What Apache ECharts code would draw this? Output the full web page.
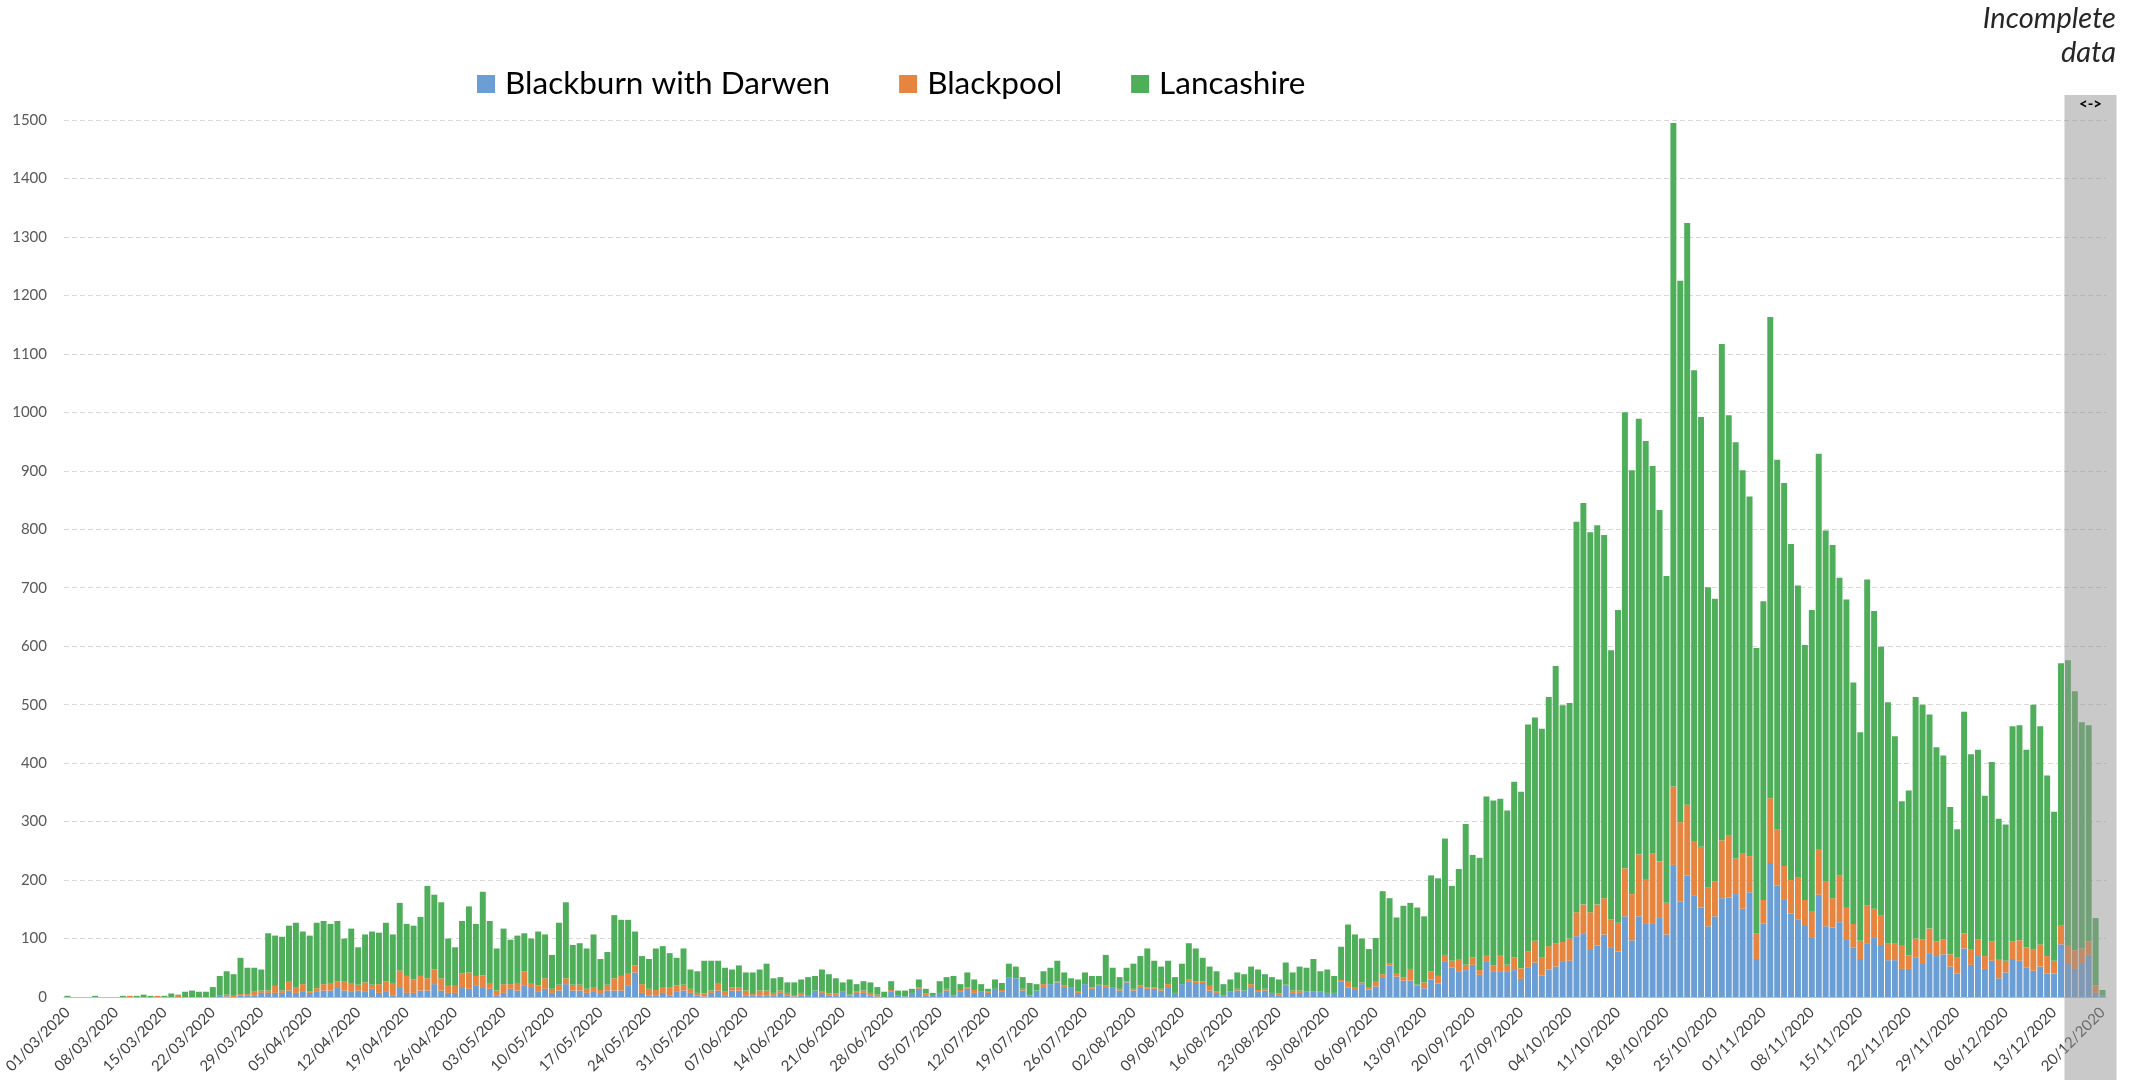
<!DOCTYPE html>
<html>
<head>
<meta charset="utf-8">
<title>Daily cases - Lancashire</title>
<script src="https://cdn.jsdelivr.net/npm/echarts@6/dist/echarts.min.js"></script>
<style>
  html, body { margin: 0; padding: 0; background: #fff; }
  #chart { width: 2130px; height: 1080px; }
</style>
</head>
<body>
<div id="chart"></div>
<script>
// daily counts 01/03/2020 .. 20/12/2020, one row per week
var blackburn = [
  0, 0, 0, 0, 0, 0, 0,
  0, 0, 0, 0, 0, 0, 0,
  0, 0, 0, 0, 0, 0, 0,
  0, 2, 1, 0, 2, 3, 3,
  7, 7, 7, 7, 11, 7, 10,
  7, 10, 11, 11, 17, 11, 10,
  11, 10, 14, 7, 10, 3, 17,
  7, 7, 11, 11, 22, 11, 7,
  7, 17, 14, 19, 17, 14, 3,
  7, 14, 11, 19, 17, 10, 14,
  7, 11, 22, 11, 11, 7, 10,
  5, 11, 11, 11, 19, 42, 7,
  3, 2, 7, 3, 10, 11, 7,
  2, 1, 7, 11, 3, 11, 11,
  2, 2, 2, 2, 3, 7, 2,
  1, 2, 2, 11, 7, 3, 3,
  9, 2, 7, 7, 2, 1, 0,
  10, 2, 1, 7, 14, 3, 2,
  7, 11, 3, 10, 14, 7, 10,
  7, 14, 10, 34, 32, 11, 3,
  11, 17, 22, 25, 17, 17, 7,
  22, 14, 19, 17, 17, 11, 25,
  11, 17, 14, 14, 11, 17, 7,
  22, 27, 24, 24, 11, 7, 3,
  9, 11, 11, 17, 10, 11, 7,
  3, 19, 7, 7, 9, 9, 9,
  7, 7, 26, 16, 12, 22, 13,
  18, 34, 54, 35, 28, 28, 20,
  15, 30, 23, 60, 50, 43, 46,
  55, 38, 60, 43, 43, 43, 46,
  31, 51, 59, 37, 47, 52, 60,
  62, 104, 108, 82, 88, 107, 84,
  78, 138, 97, 138, 125, 125, 135,
  107, 226, 163, 208, 173, 153, 121,
  138, 169, 170, 176, 151, 179, 65,
  126, 229, 191, 166, 143, 132, 123,
  101, 175, 121, 119, 128, 99, 85,
  65, 92, 101, 89, 63, 63, 48,
  48, 68, 58, 75, 70, 73, 52,
  40, 83, 55, 70, 48, 62, 32,
  42, 65, 62, 50, 45, 52, 40,
  40, 90, 58, 48, 58, 72, 7,
  2
];
var blackpool = [
  0, 0, 0, 0, 0, 0, 0,
  0, 0, 2, 0, 0, 0, 2,
  0, 0, 2, 0, 0, 0, 0,
  0, 0, 3, 2, 3, 2, 6,
  4, 4, 12, 4, 15, 10, 12,
  3, 5, 11, 13, 10, 15, 14,
  10, 15, 7, 15, 17, 21, 28,
  29, 23, 25, 21, 25, 21, 12,
  12, 23, 28, 17, 20, 10, 8,
  15, 8, 13, 25, 7, 10, 18,
  7, 10, 10, 10, 10, 7, 7,
  7, 10, 21, 25, 22, 12, 15,
  11, 10, 10, 14, 10, 10, 7,
  5, 5, 4, 13, 6, 5, 5,
  9, 3, 9, 9, 4, 4, 5,
  1, 5, 0, 0, 2, 3, 3,
  0, 2, 3, 4, 5, 3, 0,
  2, 0, 0, 0, 2, 3, 0,
  0, 3, 0, 2, 2, 5, 0,
  2, 0, 2, 0, 0, 3, 0,
  0, 5, 0, 2, 3, 0, 2,
  0, 2, 2, 3, 0, 3, 2,
  3, 3, 2, 2, 3, 5, 0,
  0, 3, 3, 3, 8, 3, 0,
  0, 3, 0, 5, 2, 3, 0,
  3, 2, 4, 4, 0, 0, 0,
  0, 0, 3, 10, 5, 3, 4,
  8, 5, 4, 6, 5, 20, 1,
  10, 14, 13, 12, 12, 22, 9,
  13, 8, 12, 11, 29, 12, 22,
  18, 27, 37, 30, 40, 40, 34,
  38, 41, 50, 63, 70, 62, 49,
  49, 82, 79, 106, 77, 121, 97,
  54, 134, 136, 121, 94, 104, 67,
  59, 99, 107, 61, 95, 62, 43,
  40, 111, 96, 58, 57, 72, 43,
  45, 77, 76, 50, 80, 55, 40,
  31, 65, 50, 50, 28, 28, 41,
  23, 32, 41, 42, 25, 26, 21,
  27, 26, 27, 29, 22, 33, 33,
  20, 30, 35, 35, 37, 38, 30,
  22, 32, 31, 32, 25, 23, 13,
  0
];
var lancashire = [
  2, 0, 0, 0, 2, 0, 0,
  0, 2, 0, 2, 4, 2, 0,
  2, 6, 2, 9, 11, 9, 9,
  17, 34, 40, 37, 62, 45, 41,
  36, 98, 86, 92, 96, 110, 90,
  95, 112, 108, 101, 103, 74, 93,
  64, 82, 91, 88, 100, 83, 116,
  89, 92, 101, 158, 128, 130, 81,
  66, 90, 113, 89, 143, 106, 72,
  95, 76, 81, 65, 76, 92, 75,
  58, 106, 130, 68, 71, 69, 90,
  53, 56, 108, 96, 91, 58, 48,
  51, 71, 70, 58, 47, 62, 33,
  37, 56, 51, 38, 41, 31, 38,
  31, 37, 36, 46, 25, 23, 18,
  23, 23, 32, 25, 38, 33, 26,
  16, 26, 12, 16, 18, 13, 9,
  15, 9, 10, 7, 14, 8, 5,
  20, 20, 33, 10, 26, 18, 12,
  5, 16, 12, 23, 20, 20, 21,
  11, 22, 28, 35, 22, 15, 21,
  20, 20, 15, 52, 33, 20, 23,
  43, 50, 67, 46, 38, 40, 27,
  35, 62, 56, 40, 33, 34, 19,
  21, 28, 28, 30, 35, 25, 27,
  24, 38, 31, 41, 41, 56, 35,
  40, 29, 57, 98, 90, 75, 65,
  75, 142, 111, 95, 123, 113, 132,
  113, 164, 167, 199, 128, 154, 241,
  175, 192, 271, 282, 267, 264, 300,
  302, 388, 382, 392, 426, 474, 405,
  403, 668, 687, 650, 649, 621, 460,
  535, 780, 725, 745, 749, 662, 601,
  559, 1135, 926, 995, 805, 735, 513,
  484, 849, 718, 712, 655, 615, 489,
  511, 823, 632, 655, 575, 500, 436,
  516, 677, 601, 604, 509, 526, 413,
  357, 557, 509, 460, 413, 355, 246,
  282, 413, 401, 366, 332, 314, 252,
  220, 379, 333, 324, 274, 307, 240,
  233, 368, 368, 338, 418, 373, 309,
  255, 449, 487, 443, 387, 370, 115,
  10
];

var names = ['Blackburn with Darwen', 'Blackpool', 'Lancashire'];
var colors = ['#6a9ed4', '#e5853f', '#4fae5a'];
var incompleteFrom = '15/12/2020';

function pad(n) { return n < 10 ? '0' + n : '' + n; }
var days = [];
var start = Date.UTC(2020, 2, 1);
for (var i = 0; i < blackburn.length; i++) {
    var d = new Date(start + i * 86400000);
    days.push(pad(d.getUTCDate()) + '/' + pad(d.getUTCMonth() + 1) + '/' + d.getUTCFullYear());
}

var font = 'Lato';
var chart = echarts.init(document.getElementById('chart'));

var option = {
    backgroundColor: '#ffffff',
    animation: false,
    textStyle: { fontFamily: font },
    color: colors,
    legend: {
        data: names,
        left: 472,
        top: 63,
        icon: 'rect',
        itemWidth: 18,
        itemHeight: 18,
        itemGap: 69,
        textStyle: { fontSize: 31.5, color: '#000', padding: [0, 0, 0, 5] }
    },
    grid: { left: 64, right: 24, top: 120, bottom: 83 },
    xAxis: {
        type: 'category',
        data: days,
        axisLine: { lineStyle: { color: '#bfbfbf' } },
        axisTick: { show: false },
        axisLabel: { interval: 6, rotate: 45, fontSize: 15, color: '#404040', margin: 13 }
    },
    yAxis: {
        type: 'value',
        min: 0,
        max: 1500,
        interval: 100,
        axisLine: { show: false },
        axisTick: { show: false },
        axisLabel: {
            fontSize: 15, color: '#595959', margin: 17,
            formatter: function (v) { return String(v); }
        },
        splitLine: { lineStyle: { color: '#d9d9d9', type: [5, 3] } }
    },
    series: [
        { name: names[0], type: 'bar', stack: 'cases', data: blackburn, barCategoryGap: '14%' },
        { name: names[1], type: 'bar', stack: 'cases', data: blackpool, barCategoryGap: '14%' },
        { name: names[2], type: 'bar', stack: 'cases', data: lancashire, barCategoryGap: '14%' }
    ]
};

option && chart.setOption(option);

// grey box over the days with incomplete data
var c0 = chart.convertToPixel({ xAxisIndex: 0 }, incompleteFrom);
var c1 = chart.convertToPixel({ xAxisIndex: 0 }, days[days.indexOf(incompleteFrom) + 1]);
var boxLeft = c0 - (c1 - c0) / 2;
var boxWidth = 52;

chart.setOption({
    graphic: [
        {
            type: 'rect', z: 100, silent: true,
            shape: { x: boxLeft, y: 95, width: boxWidth, height: 1080 - 95 },
            style: { fill: 'rgba(150,148,150,0.5)' }
        },
        {
            type: 'text', z: 101, x: boxLeft + boxWidth / 2, y: 104,
            style: { text: '<->', align: 'center', verticalAlign: 'middle', font: 'bold 15px ' + font, fill: '#000' }
        },
        {
            type: 'text', z: 101, x: 2116, y: 4,
            style: { text: 'Incomplete', align: 'right', verticalAlign: 'top', font: 'italic 29px ' + font, fill: '#262626' }
        },
        {
            type: 'text', z: 101, x: 2116, y: 38,
            style: { text: 'data', align: 'right', verticalAlign: 'top', font: 'italic 29px ' + font, fill: '#262626' }
        }
    ]
});
</script>
</body>
</html>
